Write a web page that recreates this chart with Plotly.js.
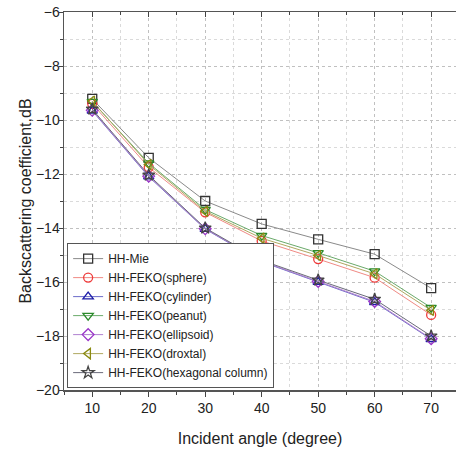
<!DOCTYPE html>
<html>
<head>
<meta charset="utf-8">
<script src="https://cdn.plot.ly/plotly-3.0.1.min.js"></script>
<style>html,body{margin:0;padding:0;background:#fff;}#chart{width:456px;height:452px;}</style>
</head>
<body>
<div id="chart"></div>
<script>
var angles = [10, 20, 30, 40, 50, 60, 70];
var seriesNames = ["HH-Mie", "HH-FEKO(sphere)", "HH-FEKO(cylinder)", "HH-FEKO(peanut)", "HH-FEKO(ellipsoid)", "HH-FEKO(droxtal)", "HH-FEKO(hexagonal column)"];
var mie       = [-9.22, -11.40, -13.00, -13.85, -14.42, -14.97, -16.23];
var sphere    = [-9.40, -11.75, -13.42, -14.48, -15.15, -15.84, -17.22];
var cylinder  = [-9.66, -12.10, -14.04, -15.25, -16.00, -16.75, -18.12];
var peanut    = [-9.32, -11.60, -13.32, -14.28, -14.92, -15.60, -16.95];
var ellipsoid = [-9.64, -12.08, -14.03, -15.23, -15.98, -16.72, -18.10];
var droxtal   = [-9.30, -11.65, -13.38, -14.38, -15.02, -15.70, -17.05];
var hexcol    = [-9.60, -12.04, -14.00, -15.20, -15.93, -16.64, -18.00];

var values = [mie, sphere, cylinder, peanut, ellipsoid, droxtal, hexcol];
var symbols = ["square-open", "circle-open", "triangle-up-open", "triangle-down-open", "diamond-open", "triangle-left-open", "star-open"];
var markerColors = ["#333333", "#ee3a3a", "#1c1ca8", "#2a8a2a", "#9a35c8", "#8a8a10", "#444444"];
var lineColors = ["#8a8a8a", "#f08a84", "#6b6bc8", "#6aaa6a", "#b080d0", "#b0a860", "#6a6a7a"];

var traces = values.map(function (v, i) {
  return {
    x: angles, y: v, name: seriesNames[i], type: "scatter", mode: "lines+markers",
    line: {color: lineColors[i], width: 1},
    marker: {symbol: symbols[i], size: 9, color: markerColors[i], line: {color: markerColors[i], width: 1.3}}
  };
});
// invisible trace for top axis ticks
traces.push({x: angles, y: mie, xaxis: "x2", type: "scatter", mode: "none", showlegend: false, hoverinfo: "skip"});

var font = {family: "Liberation Sans, Arial, sans-serif", color: "#222"};
var layout = {
  width: 456, height: 452,
  margin: {l: 64, r: 0, t: 12, b: 62},
  paper_bgcolor: "#fff", plot_bgcolor: "#fff",
  font: font,
  showlegend: true,
  xaxis: {
    range: [5, 74.4], tick0: 10, dtick: 10, ticks: "outside", ticklen: 5, tickcolor: "#444",
    showline: true, linecolor: "#555", linewidth: 1.5, mirror: true,
    showgrid: true, gridcolor: "#c0c0c0", griddash: "dot", gridwidth: 1, zeroline: false,
    minor: {dtick: 5, ticks: "outside", ticklen: 3, tickcolor: "#444", showgrid: true, gridcolor: "#dadada", griddash: "dot"},
    tickfont: {size: 14, color: "#222"},
    title: {text: "Incident angle (degree)", font: {size: 16, color: "#222"}, standoff: 17}
  },
  xaxis2: {
    overlaying: "x", matches: "x", side: "top", ticks: "inside", ticklen: 5, tickcolor: "#444",
    showticklabels: false, showgrid: false, showline: false, zeroline: false, tick0: 10, dtick: 10,
    minor: {dtick: 5, ticks: "inside", ticklen: 3, tickcolor: "#444", showgrid: false}
  },
  yaxis: {
    range: [-20, -6], dtick: 2, ticks: "outside", ticklen: 4, tickcolor: "#444",
    showline: true, linecolor: "#555", linewidth: 1.5, mirror: true,
    showgrid: true, gridcolor: "#c0c0c0", griddash: "dot", gridwidth: 1, zeroline: false,
    minor: {dtick: 1, ticks: "outside", ticklen: 3, tickcolor: "#444", showgrid: true, gridcolor: "#dadada", griddash: "dot"},
    tickfont: {size: 14, color: "#222"},
    ticklabelstandoff: -4,
    title: {text: "Backscattering coefficient,dB", font: {size: 16, color: "#222"}, standoff: 0}
  },
  legend: {
    x: 0.008, y: 0.005, xanchor: "left", yanchor: "bottom",
    bgcolor: "#fff", bordercolor: "#555", borderwidth: 1,
    font: {size: 12, color: "#222", family: "Liberation Sans, Arial, sans-serif"},
    itemwidth: 30, tracegroupgap: 0
  }
};
Plotly.newPlot("chart", traces, layout, {displayModeBar: false, staticPlot: true});
</script>
</body>
</html>
